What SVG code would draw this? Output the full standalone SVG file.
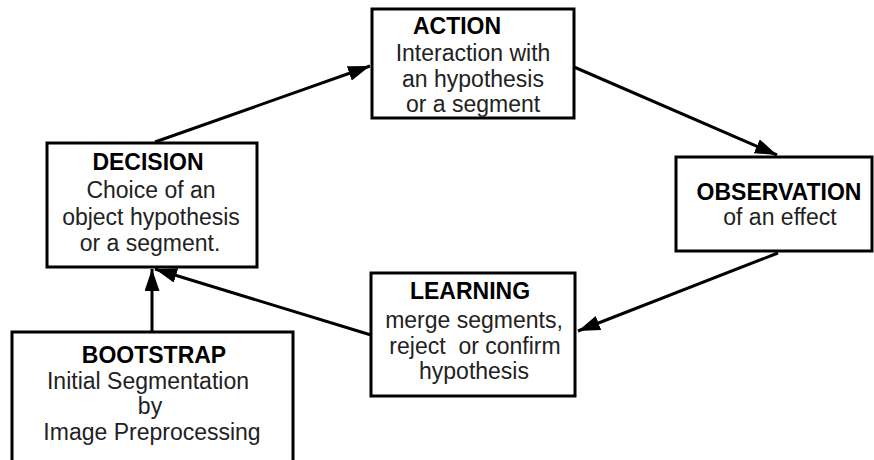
<svg xmlns="http://www.w3.org/2000/svg" width="874" height="460" viewBox="0 0 874 460">
<defs>
<style>
.box{fill:#fff;stroke:#000;stroke-width:3}
.t{font-family:"Liberation Sans",Arial,sans-serif;font-size:23px;fill:#000;text-anchor:middle}
.b{font-weight:bold}
.body{fill:#222}
.c{stroke:#000;stroke-width:3;fill:none;marker-end:url(#ah)}
</style>
<marker id="ah" markerUnits="userSpaceOnUse" markerWidth="24" markerHeight="16" refX="22" refY="7.5" orient="auto">
<path d="M0,0 L22,7.5 L0,15 z" fill="#000"/>
</marker>
</defs>
<rect width="874" height="460" fill="#fff"/>
<g id="connectors">
<line class="c" x1="155" y1="142" x2="370" y2="66"/>
<line class="c" x1="574" y1="67" x2="777" y2="155"/>
<line class="c" x1="778" y1="253" x2="578" y2="331"/>
<line class="c" x1="371" y1="335" x2="155" y2="269"/>
<line class="c" x1="152" y1="332" x2="152" y2="269"/>
</g>
<g id="action">
<rect class="box" x="372" y="9" width="202" height="109"/>
<text class="t b" x="457" y="34">ACTION</text>
<text class="t body" x="473" y="61">Interaction with</text>
<text class="t body" x="473" y="87">an hypothesis</text>
<text class="t body" x="473" y="112">or a segment</text>
</g>
<g id="decision">
<rect class="box" x="47" y="143" width="210" height="124"/>
<text class="t b" x="148" y="170">DECISION</text>
<text class="t body" x="151" y="198">Choice of an</text>
<text class="t body" x="151" y="225">object hypothesis</text>
<text class="t body" x="150" y="251">or a segment.</text>
</g>
<g id="observation">
<rect class="box" x="676" y="157" width="196" height="94"/>
<text class="t b" x="779" y="200">OBSERVATION</text>
<text class="t body" x="780" y="225">of an effect</text>
</g>
<g id="learning">
<rect class="box" x="371" y="273" width="204" height="123"/>
<text class="t b" x="470" y="299">LEARNING</text>
<text class="t body" x="474" y="328">merge segments,</text>
<text class="t body" x="475" y="354" xml:space="preserve">reject  or confirm</text>
<text class="t body" x="474" y="379">hypothesis</text>
</g>
<g id="bootstrap">
<rect class="box" x="12" y="332" width="281" height="140"/>
<text class="t b" x="154" y="363">BOOTSTRAP</text>
<text class="t body" x="148" y="389">Initial Segmentation</text>
<text class="t body" x="150" y="414">by</text>
<text class="t body" x="152" y="440">Image Preprocessing</text>
</g>
</svg>
